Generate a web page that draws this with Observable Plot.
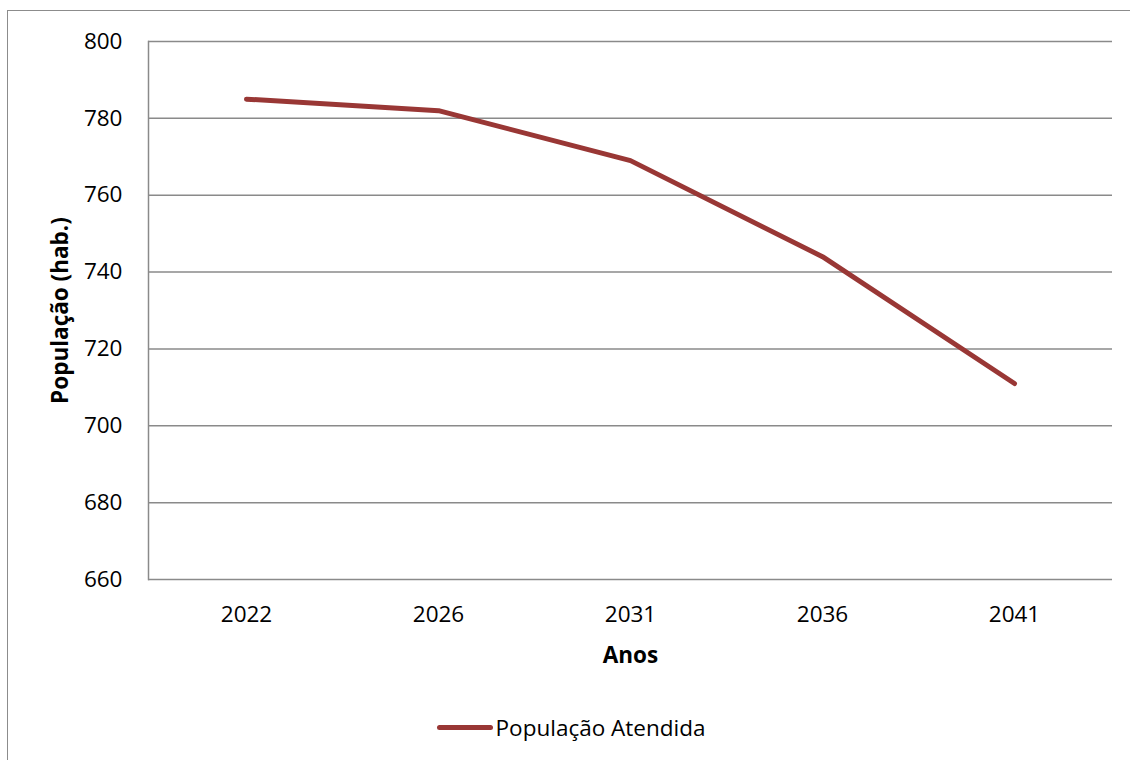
<!DOCTYPE html>
<html>
<head>
<meta charset="utf-8">
<script src="https://cdn.jsdelivr.net/npm/d3@7"></script>
<script src="https://cdn.jsdelivr.net/npm/@observablehq/plot@0.6"></script>
<style>
  html, body { margin: 0; padding: 0; background: #fff; overflow: hidden; }
  body { width: 1130px; height: 760px; position: relative; font-family: "Open Sans", sans-serif; }
  #frame {
    position: absolute; left: 7px; top: 10px; width: 1200px; height: 800px;
    border: 1.5px solid #8c8c8c; box-sizing: border-box;
  }
  #chart { position: absolute; left: 0; top: 0; }
  #legend {
    position: absolute; left: 0; top: 690px; width: 1130px; height: 70px;
    display: flex; justify-content: center; align-items: center;
    font-size: 22.5px; color: #000;
  }
  #legend .swatch { display: inline-block; width: 56px; height: 5px; border-radius: 3px; margin-right: 3px; }
  #legend .item { display: flex; align-items: center; margin-left: 12px; margin-top: 4px; }
</style>
</head>
<body>
<div id="frame"></div>
<div id="chart"></div>
<div id="legend"></div>
<script>
// Population served per horizon year
const anos = ["2022", "2026", "2031", "2036", "2041"];
const populacao = [785, 782, 769, 744, 711];
const yTicks = [660, 680, 700, 720, 740, 760, 780, 800];
const serieNome = "População Atendida";
const lineColor = "#993735";
const gridColor = "#8a8a8a";

const data = anos.map((a, i) => ({ ano: a, pop: populacao[i] }));

const chart = Plot.plot({
  width: 1130,
  height: 690,
  marginLeft: 148,
  marginRight: 18,
  marginTop: 41,
  marginBottom: 111,
  style: { fontFamily: "'Open Sans', sans-serif", fontSize: "22.5px", color: "#000", background: "transparent" },
  x: { type: "point", domain: anos, padding: 0.5, align: 0.5 },
  y: { domain: [660, 800] },
  marks: [
    Plot.gridY(yTicks, { stroke: gridColor, strokeOpacity: 1, strokeWidth: 1.5 }),
    Plot.frame({ anchor: "left", stroke: gridColor, strokeWidth: 1.5 }),
    Plot.axisY(yTicks, { tickSize: 0, tickPadding: 26, label: null, fontSize: 22.5 }),
    Plot.axisX({ tickSize: 0, tickPadding: 27, label: null, fontSize: 22.5 }),
    Plot.line(data, { x: "ano", y: "pop", stroke: lineColor, strokeWidth: 5, strokeLinejoin: "round", strokeLinecap: "round" }),
    Plot.text(["População (hab.)"], { frameAnchor: "left", textAnchor: "middle", dx: -88, rotate: -90, fontWeight: "bold", fontSize: 22.5 }),
    Plot.text(["Anos"], { frameAnchor: "bottom", dy: 83, fontWeight: "bold", fontSize: 22.5 })
  ]
});

document.getElementById("chart").appendChild(chart);

const legend = document.getElementById("legend");
legend.innerHTML = `<div class="item"><span class="swatch"></span><span>${serieNome}</span></div>`;
document.querySelector("#legend .swatch").style.background = lineColor;
</script>
</body>
</html>
